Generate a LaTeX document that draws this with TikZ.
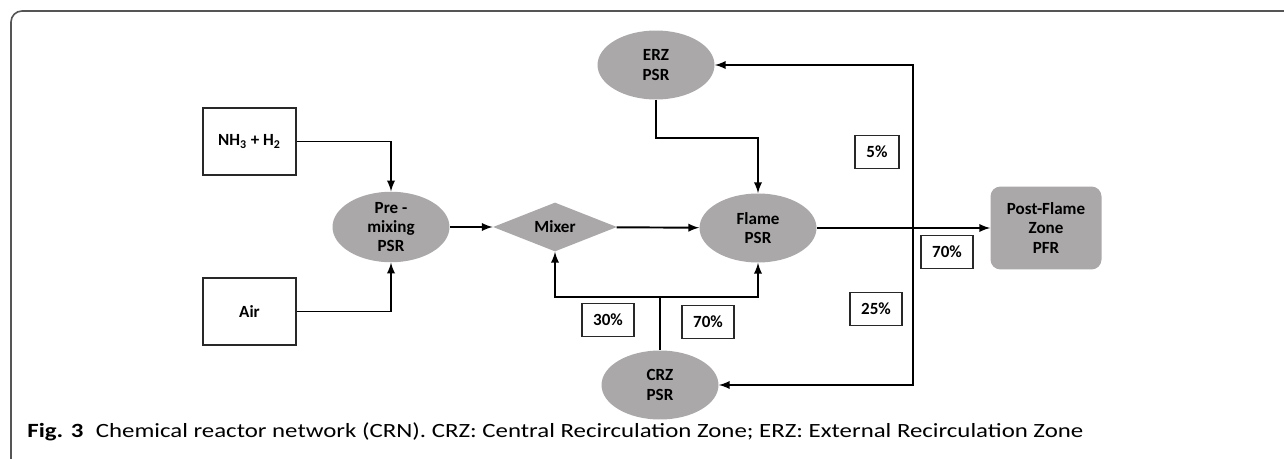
\documentclass[tikz,border=0pt]{standalone}
\usepackage{fontspec}
\setmainfont{Carlito}
\usepackage{tikz}
\usetikzlibrary{arrows,shapes,positioning}
\usepackage{xcolor}
\definecolor{crngray}{RGB}{170,168,168}
\definecolor{framegray}{RGB}{85,85,85}
\definecolor{boxline}{RGB}{40,40,40}
\tikzstyle{reactor} = [ellipse, minimum width=2.34cm, minimum height=1.38cm, inner sep=0pt, align=center, fill=crngray, font=\bfseries\fontsize{9.7}{11}\selectfont]
\tikzstyle{feed} = [rectangle, minimum width=1.86cm, minimum height=1.34cm, align=center, draw=boxline, line width=0.8pt, font=\bfseries\fontsize{9.7}{11}\selectfont]
\tikzstyle{mixing} = [diamond, aspect=2.5, minimum width=2.48cm, minimum height=0.98cm, inner sep=0pt, fill=crngray, font=\bfseries\fontsize{9.7}{11}\selectfont]
\tikzstyle{plugflow} = [rectangle, rounded corners=0.2cm, minimum width=2.22cm, minimum height=1.66cm, align=center, fill=crngray, font=\bfseries\fontsize{9.7}{11}\selectfont]
\tikzstyle{share} = [rectangle, minimum width=1.04cm, minimum height=0.66cm, draw=boxline, line width=0.8pt, font=\bfseries\fontsize{9.7}{11}\selectfont]
\tikzstyle{arrow} = [line width=1.1pt,->,>=latex]
\begin{document}
\begin{tikzpicture}[x=0.02cm, y=-0.02cm]
\useasboundingbox (0,0) rectangle (1284,459);
% Frame
\draw[framegray, line width=0.9pt, rounded corners=0.22cm] (11,459) -- (11,11) -- (1284,11);

% Feeds
\node (fuel) [feed] at (249.5,141.5) {NH\textsubscript{3} + H\textsubscript{2}};
\node (air) [feed] at (249.5,311.5) {Air};

% Reactors
\node (premix) [reactor] at (391,227) {Pre -\\mixing\\PSR};
\node (mixer) [mixing] at (555,227) {Mixer};
\node (flame) [reactor] at (758,228) {Flame\\PSR};
\node (erz) [reactor] at (656,65) {ERZ\\PSR};
\node (crz) [reactor] at (660,385) {CRZ\\PSR};
\node (pfr) [plugflow] at (1046,228) {Post-Flame\\Zone\\PFR};

% Split ratios
\node (r5) [share, minimum width=0.88cm] at (877,152) {5\%};
\node (r70out) [share] at (947,252) {70\%};
\node (r25) [share] at (876,309) {25\%};
\node (r30) [share] at (608,320) {30\%};
\node (r70in) [share] at (708,322) {70\%};

% Junctions
\coordinate (outsplit) at (913,228);
\coordinate (crzsplit) at (660,297);

% Arrows
\draw[arrow] (fuel.east) -| (premix.north);
\draw[arrow] (air.east) -| (premix.south);
\draw[arrow] (premix) -- (mixer);
\draw[arrow] (mixer) -- (flame);
\draw[arrow] (erz.south) -- ++(0,38) -| (flame.north);
\draw[arrow] (flame) -- (pfr);
\draw[arrow] (outsplit) |- (erz.east);
\draw[arrow] (outsplit) |- (crz.east);
\draw[line width=1.1pt] (crz.north) -- (crzsplit);
\draw[arrow] (crzsplit) -| (mixer.south);
\draw[arrow] (crzsplit) -| (flame.south);

% Caption
\node (caption) [anchor=base west, inner sep=0pt, xscale=1.23, font=\fontsize{11.5}{13}\selectfont] at (27,437) {\textbf{Fig. 3}\hspace{0.5em}Chemical reactor network (CRN). CRZ: Central Recirculation Zone; ERZ: External Recirculation Zone};
\end{tikzpicture}
\end{document}
